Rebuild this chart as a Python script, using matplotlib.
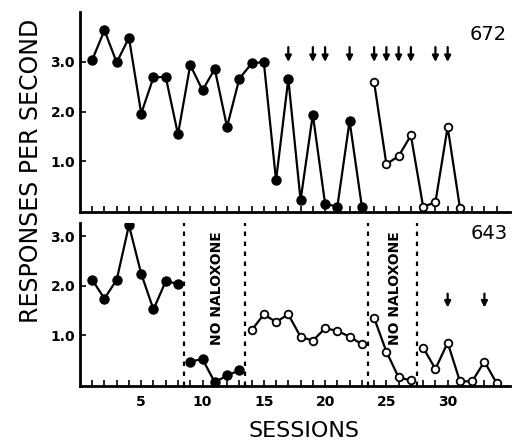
import numpy as np
import matplotlib
matplotlib.use('Agg')
import matplotlib.pyplot as plt

# subject 672 (top panel)
s672_fill = np.arange(1, 24)
v672_fill = [3.04, 3.64, 2.99, 3.49, 1.96, 2.69, 2.70, 1.54, 2.94, 2.43,
             2.86, 1.69, 2.66, 2.97, 3.00, 0.61, 2.66, 0.21, 1.94, 0.14,
             0.08, 1.81, 0.08]
s672_open = np.arange(24, 32)
v672_open = [2.59, 0.94, 1.10, 1.52, 0.08, 0.17, 1.69, 0.06]
arrows672 = [17, 19, 20, 22, 24, 25, 26, 27, 29, 30]

# subject 643 (bottom panel)
s643_a = np.arange(1, 9)
v643_a = [2.12, 1.74, 2.12, 3.22, 2.24, 1.52, 2.09, 2.04]
s643_b = np.arange(9, 14)
v643_b = [0.47, 0.52, 0.05, 0.19, 0.29]
s643_c = np.arange(14, 24)
v643_c = [1.10, 1.42, 1.27, 1.42, 0.97, 0.89, 1.14, 1.09, 0.97, 0.82]
s643_d = np.arange(24, 28)
v643_d = [1.35, 0.67, 0.15, 0.09]
s643_e = np.arange(28, 35)
v643_e = [0.75, 0.32, 0.85, 0.07, 0.07, 0.47, 0.03]
arrows643 = [30, 33]
no_nal = [(8.5, 13.5), (23.5, 27.5)]

fig = plt.figure(figsize=(5.19, 4.43), dpi=100)
ax1 = fig.add_axes([0.154, 0.521, 0.829, 0.451])
ax2 = fig.add_axes([0.154, 0.128, 0.829, 0.368])

def style(ax, ymax):
    ax.set_xlim(0, 35.1)
    ax.set_ylim(-0.03, ymax)
    for sp in ['top', 'right']:
        ax.spines[sp].set_visible(False)
    for sp in ['left', 'bottom']:
        ax.spines[sp].set_linewidth(2)
    ax.set_xticks(np.arange(1, 35))
    ax.set_yticks([1, 2, 3])
    ax.set_yticklabels(['1.0', '2.0', '3.0'], fontsize=10, fontweight='bold')
    ax.tick_params(direction='in', length=4, width=1.2)

def arrow(ax, s, y0, y1):
    ax.annotate('', xy=(s, y0), xytext=(s, y1),
                arrowprops=dict(arrowstyle='-|>', color='k', lw=1.6,
                                mutation_scale=9, shrinkA=0, shrinkB=0))

kf = dict(color='k', lw=1.6, marker='o', ms=6.5, mfc='k', mec='k')
ko = dict(color='k', lw=1.6, marker='o', ms=5.5, mfc='white', mec='k', mew=1.3)

style(ax1, 4.0)
ax1.plot(s672_fill, v672_fill, **kf)
ax1.plot(s672_open, v672_open, **ko)
ax1.set_xticklabels([])
for s in arrows672:
    arrow(ax1, s, 3.0, 3.3)
ax1.text(34.8, 3.55, '672', fontsize=14, ha='right', va='center')

style(ax2, 3.26)
ax2.plot(s643_a, v643_a, **kf)
ax2.plot(s643_b, v643_b, **kf)
ax2.plot(s643_c, v643_c, **ko)
ax2.plot(s643_d, v643_d, **ko)
ax2.plot(s643_e, v643_e, **ko)
for s in arrows643:
    arrow(ax2, s, 1.56, 1.84)
for a, b in no_nal:
    for xv in (a, b):
        ax2.axvline(xv, color='k', ls=(0, (2, 2.5)), lw=1.6)
    ax2.text((a + b) / 2 + 0.2, 1.95, 'NO NALOXONE', rotation=90,
             fontsize=10, fontweight='bold', ha='center', va='center')
ax2.text(34.9, 3.06, '643', fontsize=14, ha='right', va='center')
ax2.set_xticklabels([str(i) if i % 5 == 0 else '' for i in range(1, 35)],
                    fontsize=10, fontweight='bold')
ax2.tick_params(axis='x', pad=6)

fig.text(0.585, 0.028, 'SESSIONS', fontsize=16, ha='center', va='center')
fig.text(0.06, 0.614, 'RESPONSES PER SECOND', fontsize=17, rotation=90,
         ha='center', va='center')

fig.savefig('out.png', dpi=100)
